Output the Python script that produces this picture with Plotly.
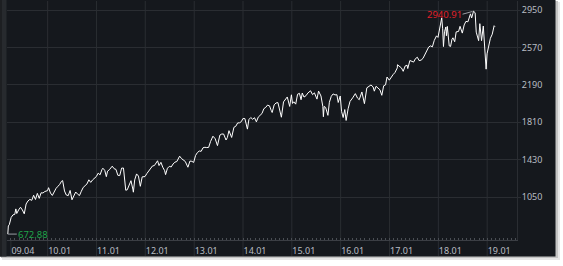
import plotly.graph_objects as go

# ---------------- data (S&P 500 style index) ----------------
dates = [
 "2009-03-09","2009-03-13","2009-03-20","2009-03-27","2009-04-03","2009-04-17","2009-04-30","2009-05-08","2009-05-15","2009-05-29",
 "2009-06-12","2009-06-26","2009-07-10","2009-07-24","2009-08-07","2009-08-21","2009-09-04","2009-09-18","2009-10-02","2009-10-16",
 "2009-10-30","2009-11-13","2009-11-27","2009-12-11","2009-12-31",
 "2010-01-08","2010-01-22","2010-02-05","2010-02-19","2010-03-05","2010-03-19","2010-04-01","2010-04-15","2010-04-23","2010-05-07",
 "2010-05-20","2010-06-04","2010-06-18","2010-07-02","2010-07-16","2010-07-30","2010-08-13","2010-08-27","2010-09-10","2010-09-24",
 "2010-10-08","2010-10-22","2010-11-05","2010-11-19","2010-12-03","2010-12-17","2010-12-31",
 "2011-01-14","2011-01-28","2011-02-11","2011-02-18","2011-03-04","2011-03-16","2011-03-25","2011-04-08","2011-04-29","2011-05-13",
 "2011-05-27","2011-06-10","2011-06-24","2011-07-08","2011-07-22","2011-08-05","2011-08-08","2011-08-19","2011-09-02","2011-09-16",
 "2011-09-30","2011-10-04","2011-10-14","2011-10-28","2011-11-11","2011-11-25","2011-12-09","2011-12-30",
 "2012-01-13","2012-01-27","2012-02-10","2012-02-24","2012-03-09","2012-03-23","2012-04-02","2012-04-13","2012-04-27","2012-05-11",
 "2012-05-25","2012-06-01","2012-06-15","2012-06-29","2012-07-13","2012-07-27","2012-08-10","2012-08-24","2012-09-14","2012-09-28",
 "2012-10-12","2012-10-26","2012-11-15","2012-11-30","2012-12-14","2012-12-28",
 "2013-01-11","2013-01-25","2013-02-08","2013-02-22","2013-03-08","2013-03-22","2013-04-05","2013-04-19","2013-05-03","2013-05-21",
 "2013-06-07","2013-06-24","2013-07-12","2013-07-26","2013-08-09","2013-08-27","2013-09-06","2013-09-18","2013-10-08","2013-10-25",
 "2013-11-08","2013-11-22","2013-12-06","2013-12-20","2013-12-31",
 "2014-01-15","2014-02-03","2014-02-14","2014-02-28","2014-03-14","2014-03-28","2014-04-11","2014-04-25","2014-05-09","2014-05-23",
 "2014-06-06","2014-06-20","2014-07-03","2014-07-18","2014-07-31","2014-08-07","2014-08-22","2014-09-05","2014-09-19","2014-10-01",
 "2014-10-15","2014-10-31","2014-11-14","2014-11-28","2014-12-16","2014-12-29",
 "2015-01-06","2015-01-16","2015-01-30","2015-02-13","2015-02-27","2015-03-11","2015-03-20","2015-04-02","2015-04-17","2015-05-01",
 "2015-05-21","2015-06-05","2015-06-19","2015-07-08","2015-07-20","2015-08-07","2015-08-21","2015-08-25","2015-08-31","2015-09-11",
 "2015-09-28","2015-10-09","2015-10-23","2015-11-06","2015-11-20","2015-12-04","2015-12-14","2015-12-29",
 "2016-01-08","2016-01-20","2016-02-01","2016-02-11","2016-02-26","2016-03-11","2016-03-31","2016-04-20","2016-05-06","2016-05-19",
 "2016-06-08","2016-06-27","2016-07-15","2016-07-29","2016-08-15","2016-08-31","2016-09-09","2016-09-22","2016-10-07","2016-10-21",
 "2016-11-04","2016-11-18","2016-12-02","2016-12-13","2016-12-30",
 "2017-01-13","2017-01-27","2017-02-10","2017-02-28","2017-03-01","2017-03-17","2017-03-31","2017-04-13","2017-04-28","2017-05-12",
 "2017-05-17","2017-06-02","2017-06-16","2017-06-30","2017-07-14","2017-07-28","2017-08-10","2017-08-25","2017-09-08","2017-09-22",
 "2017-10-06","2017-10-20","2017-11-03","2017-11-17","2017-12-01","2017-12-18","2017-12-29",
 "2018-01-12","2018-01-26","2018-02-02","2018-02-05","2018-02-08","2018-02-16","2018-02-26","2018-03-02","2018-03-09","2018-03-23",
 "2018-04-02","2018-04-13","2018-04-20","2018-05-03","2018-05-14","2018-06-01","2018-06-12","2018-06-29","2018-07-13","2018-07-26",
 "2018-08-10","2018-08-29","2018-09-07","2018-09-21","2018-10-03","2018-10-11","2018-10-24","2018-10-29","2018-11-07","2018-11-20",
 "2018-12-03","2018-12-14","2018-12-24","2018-12-31",
 "2019-01-11","2019-01-25","2019-02-08","2019-02-22","2019-02-28",
]
values = [
 672.88,756,768,815,842,869,873,929,882,919,
 946,918,879,979,1010,1026,1016,1068,1025,1087,
 1036,1093,1091,1106,1115,
 1145,1091,1066,1109,1138,1159,1178,1211,1217,1111,
 1071,1064,1117,1022,1064,1101,1079,1065,1109,1148,
 1165,1183,1225,1199,1224,1243,1258,
 1293,1276,1329,1343,1321,1257,1313,1328,1364,1338,
 1331,1271,1268,1344,1345,1199,1119,1123,1174,1216,
 1131,1099,1224,1285,1263,1159,1255,1258,
 1289,1316,1343,1366,1370,1397,1419,1370,1403,1353,
 1318,1278,1343,1362,1356,1386,1405,1411,1466,1441,
 1429,1412,1353,1416,1413,1402,
 1472,1503,1518,1515,1551,1556,1553,1555,1614,1669,
 1643,1573,1680,1691,1691,1630,1655,1725,1656,1759,
 1770,1804,1805,1818,1848,
 1848,1741,1838,1859,1841,1857,1815,1863,1878,1900,
 1949,1962,1985,1978,1931,1910,1988,2007,2011,1946,
 1862,2018,2039,2068,1972,2090,
 2002,2019,1995,2096,2105,2040,2108,2067,2081,2108,
 2131,2092,2110,2046,2128,2078,1971,1867,1972,1961,
 1881,2014,2075,2099,2089,2091,2012,2078,
 1922,1859,1940,1829,1948,2022,2059,2102,2057,2040,
 2119,2000,2161,2173,2190,2170,2127,2177,2153,2141,
 2085,2182,2191,2271,2239,
 2275,2295,2316,2364,2396,2378,2363,2329,2384,2391,
 2357,2439,2433,2423,2459,2472,2438,2443,2461,2502,
 2549,2575,2588,2578,2642,2690,2674,
 2786,2873,2762,2649,2581,2732,2780,2691,2786,2588,
 2582,2656,2670,2630,2730,2735,2787,2718,2801,2837,
 2833,2914,2872,2940.91,2925,2728,2656,2641,2814,2641,
 2790,2600,2351,2507,
 2596,2665,2707,2793,2784,
]
tick_dates = ["2009-04-01","2010-01-01","2011-01-01","2012-01-01","2013-01-01","2014-01-01",
              "2015-01-01","2016-01-01","2017-01-01","2018-01-01","2019-01-01"]
tick_labels = ["09.04","10.01","11.01","12.01","13.01","14.01","15.01","16.01","17.01","18.01","19.01"]
y_ticks = [1050, 1430, 1810, 2190, 2570, 2950]
min_date, min_value = "2009-03-09", 672.88
max_date, max_value = "2018-09-21", 2940.91

# ---------------- layout geometry ----------------
W, H = 563, 266
L, R, T, B = 7, 517, 1, 240
def px(x): return (x - L) / (R - L)
def py(y): return (B - y) / (B - T)

PANEL = "#15181d"
GRID = "#2a2d32"
AXIS = "#3b3e44"
TEXT = "#b8bdc3"
FONT = "Noto Sans"

fig = go.Figure()
fig.add_trace(go.Scatter(x=dates, y=values, mode="lines",
                         line=dict(color="#ffffff", width=1), hoverinfo="skip",
                         showlegend=False))

shapes = []
# shadow + panel
shapes.append(dict(type="rect", xref="paper", yref="paper", x0=px(2), x1=px(560), y0=py(260), y1=py(2),
                   fillcolor="#e6e6e6", line_width=0, layer="below"))
shapes.append(dict(type="rect", xref="paper", yref="paper", x0=px(1), x1=px(558), y0=py(258), y1=py(1),
                   fillcolor="#c4c4c4", line_width=0, layer="below"))
shapes.append(dict(type="rect", xref="paper", yref="paper", x0=px(0), x1=px(555.5), y0=py(256.5), y1=py(-2),
                   fillcolor=PANEL, line_width=0, layer="below"))
shapes.append(dict(type="rect", xref="paper", yref="paper", x0=px(0), x1=px(2), y0=py(256.5), y1=py(-2),
                   fillcolor="#1d1f22", line_width=0, layer="below"))
shapes.append(dict(type="rect", xref="paper", yref="paper", x0=px(2), x1=px(6.5), y0=py(256.5), y1=py(-2),
                   fillcolor="#272a2e", line_width=0, layer="below"))
# vertical grid lines at the tick dates, through the label band
for i, d in enumerate(tick_dates):
    shapes.append(dict(type="line", xref="x", yref="paper", x0=d, x1=d,
                       y0=py(256), y1=(0 if i == 0 else 1),
                       line=dict(color=GRID, width=1), layer="below"))

annotations = [
    dict(x=min_date, y=min_value, xref="x", yref="y", text="672.88", showarrow=True,
         arrowhead=0, arrowwidth=1, arrowcolor="#9a9ea4", ax=9, ay=0, standoff=0,
         xanchor="left", yanchor="middle", borderpad=0,
         font=dict(family=FONT, size=9.5, color="#1fa34a")),
    dict(x=max_date, y=max_value, xref="x", yref="y", text="2940.91", showarrow=True,
         arrowhead=0, arrowwidth=1, arrowcolor="#9a9ea4", ax=-11, ay=3, standoff=1,
         xanchor="right", yanchor="middle", borderpad=0,
         font=dict(family=FONT, size=9.5, color="#e0202a")),
]

fig.update_layout(
    width=W, height=H,
    margin=dict(l=L, r=W - R, t=T, b=H - B, pad=0),
    paper_bgcolor="#ffffff", plot_bgcolor="rgba(0,0,0,0)",
    shapes=shapes, annotations=annotations, showlegend=False,
    xaxis=dict(type="date", range=["2009-03-03", "2019-08-12"], showgrid=False, zeroline=False,
               tickmode="array", tickvals=tick_dates, ticktext=tick_labels,
               ticklabelposition="outside right", ticks="", ticklabelstandoff=2,
               tickfont=dict(family=FONT, size=9, color=TEXT),
               showline=True, linecolor=AXIS, linewidth=1,
               minor=dict(dtick="M1", tick0="2009-01-01", ticks="inside", ticklen=2,
                          tickcolor="#4a4e54", showgrid=False)),
    yaxis=dict(side="right", range=[612.6, 3044.6], tickmode="array", tickvals=y_ticks,
               showgrid=True, gridcolor=GRID, gridwidth=1, zeroline=False,
               ticks="outside", ticklen=3, tickcolor=GRID, ticklabelstandoff=-1,
               tickfont=dict(family=FONT, size=9, color=TEXT),
               showline=True, linecolor=GRID, linewidth=1),
)

fig.write_html("out.html")
